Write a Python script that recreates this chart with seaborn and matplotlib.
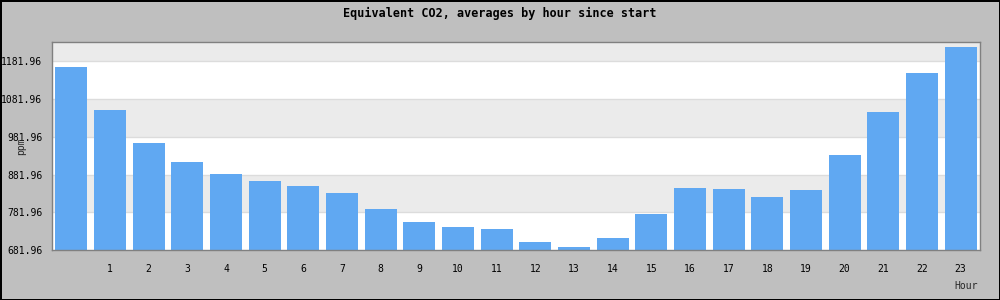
import matplotlib
matplotlib.use("Agg")
import matplotlib.pyplot as plt
import seaborn as sns
import numpy as np

hours = list(range(24))
hour_labels = [""] + [str(h) for h in range(1, 24)]
co2_ppm = [1166.9, 1052.9, 965.5, 915.2, 883.4, 864.8, 851.6, 833.0, 790.6, 756.2,
           742.9, 737.6, 703.2, 689.9, 713.8, 777.4, 846.3, 843.6, 822.4, 841.0,
           933.7, 1047.7, 1151.0, 1219.9]
y_ticks = [681.96, 781.96, 881.96, 981.96, 1081.96, 1181.96]
y_top = 1233.0

sns.set_style("white")
plt.rcParams['font.family'] = ['DejaVu Sans Mono']

fig = plt.figure(figsize=(10, 3), dpi=100)
fig.patch.set_facecolor("#bfbfbf")
fig.patch.set_edgecolor("black")
fig.patch.set_linewidth(2)

ax = fig.add_axes([0.052, 50/300, 0.928, 208/300])
ax.set_facecolor("white")

# alternating bands
edges = y_ticks + [y_top]
for i in range(len(edges) - 1):
    if i % 2 == 1:
        ax.axhspan(edges[i], edges[i+1], color="#ebebeb", zorder=0, lw=0)
for t in y_ticks[1:]:
    ax.axhline(t, color="#dcdcdc", lw=1, zorder=0.5)

sns.barplot(x=hours, y=co2_ppm, color="#60a8f2", saturation=1, width=0.83,
            linewidth=0, edgecolor="none", ax=ax, zorder=2)

ax.set_ylim(y_ticks[0], y_top)
ax.set_xlim(-0.5, 23.5)
ax.set_yticks(y_ticks)
ax.set_yticklabels([f"{t:.2f}" for t in y_ticks])
ax.set_xticks(hours)
ax.set_xticklabels(hour_labels)
ax.tick_params(axis="both", length=0, labelsize=7, colors="black")
ax.tick_params(axis="y", pad=7)
ax.tick_params(axis="x", pad=10)
ax.set_xlabel("")
ax.set_ylabel("")
for s in ["left", "bottom", "top", "right"]:
    ax.spines[s].set_color("#808080")
    ax.spines[s].set_linewidth(1)

fig.text(0.5, 1 - 13/300, "Equivalent CO2, averages by hour since start",
         ha="center", va="center", fontsize=8.5, fontweight="bold", color="black")
fig.text(0.021, 1 - 146/300, "ppm", rotation=90, ha="center", va="center", fontsize=7)
fig.text(0.966, 1 - 286/300, "Hour", ha="center", va="center", fontsize=7)

fig.savefig("out.png", dpi=100, facecolor=fig.get_facecolor(), edgecolor=fig.get_edgecolor())
